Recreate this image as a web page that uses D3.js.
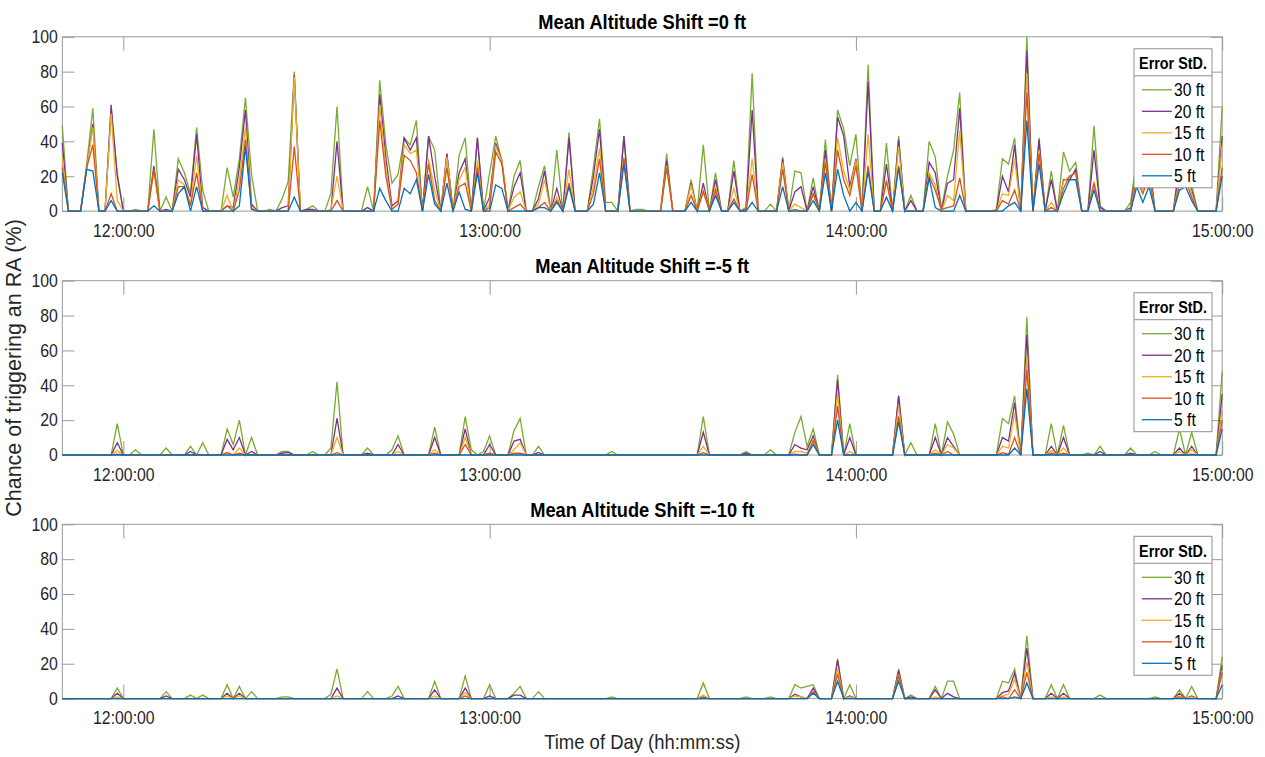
<!DOCTYPE html>
<html><head><meta charset="utf-8">
<script src="https://cdn.jsdelivr.net/npm/d3@7"></script>
<style>body{margin:0;background:#fff;} svg{display:block;}</style>
</head><body>
<svg id="chart" width="1265" height="757"></svg>
<script>
// ---------------- data ----------------
const startTime = "11:50:00";
const endTime = "15:00:00";
const sampleCount = 191;            // one sample per minute, 11:50 .. 15:00
const xTickLabels = ["12:00:00", "13:00:00", "14:00:00", "15:00:00"];
const yTicks = [0, 20, 40, 60, 80, 100];
const seriesNames = ["30 ft", "20 ft", "15 ft", "10 ft", "5 ft"];
const seriesColors = ["#77AC30", "#7E2F8E", "#EDB120", "#D95319", "#0072BD"];
const panelTitles = ["Mean Altitude Shift =0 ft", "Mean Altitude Shift =-5 ft", "Mean Altitude Shift =-10 ft"];
const legendTitle = "Error StD.";
const yLabel = "Chance of triggering an RA (%)";
const xLabel = "Time of Day (hh:mm:ss)";

// rows: [minute after 11:50, 30 ft, 20 ft, 15 ft, 10 ft, 5 ft]; minutes not listed read as 0
const shift0 = [
  [0,49,39,31,25,22],[4,27,25,25,25,24],[5,59,50,48,38,23],[8,58,61,56,10,6],[9,22,20,6,0,0],
  [12,1,0,0,0,0],[15,47,26,23,24,3],[17,8,1,0,0,0],[19,30,24,18,14,10],[20,22,18,15,14,14],
  [21,10,8,4,3,0],[22,48,44,32,22,14],[23,12,2,0,0,0],[27,25,3,9,3,0],[28,8,2,0,0,0],
  [29,30,25,18,12,3],[30,65,58,48,41,37],[31,21,4,2,1,1],[34,1,0,0,0,0],[36,7,2,0,0,0],
  [37,17,3,0,0,0],[38,80,78,77,37,8],[40,1,1,0,0,0],[41,3,1,0,0,0],[44,10,0,1,0,0],
  [45,60,40,20,6,0],[50,14,2,0,0,0],[52,75,67,61,52,13],[53,38,31,24,20,6],[54,16,3,1,1,0],
  [55,21,6,4,4,0],[56,42,42,38,32,13],[57,38,35,33,29,10],[58,52,42,35,22,18],[60,43,43,30,27,21],
  [61,35,20,12,6,4],[63,33,33,31,25,16],[65,32,22,18,14,11],[66,42,30,25,16,1],[68,42,42,29,25,22],
  [70,22,8,4,2,0],[71,43,39,37,34,15],[72,29,29,29,27,13],[74,20,14,8,2,0],[75,29,22,11,4,0],
  [78,14,7,4,2,2],[79,26,23,18,5,2],[81,35,13,8,6,5],[83,45,42,24,16,14],[87,25,20,14,10,4],
  [88,53,47,36,30,22],[89,5,0,0,0,0],[90,5,0,0,0,0],[92,43,43,31,30,27],[94,1,0,0,0,0],
  [95,1,0,0,0,0],[99,33,29,26,25,0],[103,18,16,15,9,5],[105,38,16,12,11,0],[107,22,18,14,12,9],
  [110,29,23,13,7,5],[112,2,1,0,0,0],[113,79,58,30,21,5],[116,4,0,0,0,0],[118,31,30,28,24,14],
  [120,23,11,4,1,0],[121,22,14,2,0,0],[123,19,14,10,10,6],[125,41,35,30,28,22],[127,58,54,42,35,24],
  [128,47,43,23,18,9],[129,26,14,12,9,0],[130,44,30,29,26,5],[132,84,74,44,26,23],[135,39,27,18,17,8],
  [137,43,41,37,26,25],[139,9,6,0,0,0],[142,40,28,22,20,19],[143,31,22,15,12,2],[144,1,0,0,1,0],
  [145,20,16,9,2,0],[146,35,18,6,3,0],[147,68,59,46,19,9],[153,1,0,0,0,0],[154,30,20,10,6,0],
  [155,27,11,9,4,3],[156,42,38,30,12,5],[158,100,92,79,68,52],[160,42,41,35,33,27],[162,23,18,5,2,0],
  [164,34,18,17,13,10],[165,23,18,20,20,18],[166,28,24,22,22,18],[169,49,35,17,16,12],[170,3,2,0,0,0],
  [175,5,2,1,0,0],[176,30,25,20,18,14],[177,22,18,12,10,5],[178,32,28,22,20,14],[183,30,25,18,15,12],
  [184,38,32,24,18,14],[185,15,12,10,8,6],[190,60,43,38,25,20]
];
const shiftMinus5 = [
  [9,18,7,2.5,0.5,0],[12,3,0,0,0,0],[17,4,0,0,0,0],[21,5,2,0,0,0],[23,7,0,0,0,0],
  [27,15,9,1.5,1.3,0],[28,6,3,0,0,0],[29,20,10,4,1,0],[31,10,2,0,0,0],[36,2,1,0,0,0],
  [37,2,1.5,0,0,0],[41,2,0,0,0,0],[44,4,0,0,0,0],[45,42,21,10,1.3,0],[50,4,1,0,0,0],
  [54,3,0,0,0,0],[55,11,6,2,0,0],[61,16,10,3,1,0],[66,22,15,10,6,0],[67,3,0,0,0,0],
  [69,2,0,0,0,0],[70,11,6,0,1,0],[74,14,8,3,1,0],[75,21,9,7,1,0],[78,5,1.5,0,0,0],
  [90,2,0,0,0,0],[105,22,13,5,1.3,0],[112,2,1,0,0,0],[116,3,0,0,0,0],[120,13,6,2,0.5,0],
  [121,22,4,2,0,0],[122,5,3,1,0,0],[123,15,11,9,8,6],[127,46,43,35,28,20],[129,18,10,2,0,0],
  [137,34,34,28,22,19],[139,7,0,0,0,0],[143,18,10,3,1,0],[145,19,10,6,2,0],[146,12,5,4,0,0],
  [154,21,10,5,1.3,0],[155,18,8,4,0.5,0],[156,34,30,24,10,4],[158,79,69,56,49,38],[162,18,5,2.5,1,0],
  [164,17,10,4,1,0],[168,1,0,0,0,0],[170,5,2,0,0,0],[175,4,1,0,0,0],[179,2,0,0,0,0],
  [183,15,4,2,0,0],[185,13,5,3,0.5,0],[190,48,35,26,20,15]
];
const shiftMinus10 = [
  [9,6,3,1,0,0],[17,4,1.5,0,0,0],[21,2,0,0,0,0],[23,2,0,0,0,0],[27,8,3,1.5,0,0],
  [29,7,3,1.5,0,0],[31,4,0,0,0,0],[36,1,0,0,0,0],[37,1,0,0,0,0],[44,2.5,0,0,0,0],
  [45,17,6,1.5,0,0],[50,4,0,0,0,0],[54,1.5,0,0,0,0],[55,7,1.5,0,0,0],[61,10,5,1.5,0,0],
  [66,13,6,3.4,1.5,0],[70,8,1.5,0,0,0],[74,3,2,0,0,0],[75,7,2,0,0,0],[78,4,0,0,0,0],
  [90,1,0,0,0,0],[105,9,1,2,0,0],[112,1,0,0,0,0],[116,1,0,0,0,0],[120,8,2.5,1.5,0,0],
  [121,6,1,1,0,0],[122,7,0,0,0,0],[123,8,6,4,4,3],[127,23,22,17,14,10],[129,8,1.5,1,0,0],
  [137,17,16,14,13,10],[139,2,1,0,0,0],[143,7,5,1,0,0],[145,10,3,0,0,0],[146,10,1,0,0,0],
  [154,10,3.4,1.5,1,0],[155,9,4.4,2.5,0,0],[156,17,14.5,11,5,1],[158,36,29,21,15,9],[162,8,3,1,0,0],
  [164,8,3,1,0,0],[170,2,0,0,0,0],[179,1,0,0,0,0],[183,5,3,1.5,1,0],[185,7,1.5,1,0,0],
  [190,24,19,16,15,8]
];
const panelData = [shift0, shiftMinus5, shiftMinus10];

// ---------------- layout ----------------
const W = 1265, H = 757;
const plotLeft = 62.3, plotRight = 1222.2;
const panelTops = [36.8, 280.7, 524.3];
const panelH = 174.3;
const FONT = "'Liberation Sans', Arial, Helvetica, sans-serif";
const SQX = 0.88;           // horizontal squeeze of the reference text
const boxColor = "#9a9a9a";
const textColor = "#262626";

const parseT = d3.timeParse("%Y-%m-%d %H:%M:%S");
const t0 = parseT("2000-01-01 " + startTime);
const t1 = parseT("2000-01-01 " + endTime);
const tickDates = xTickLabels.map(s => parseT("2000-01-01 " + s));
const fmt = d3.timeFormat("%H:%M:%S");

const svg = d3.select("#chart");
svg.append("rect").attr("width", W).attr("height", H).attr("fill", "#fff");

const x = d3.scaleTime().domain([t0, t1]).range([plotLeft, plotRight]);

function addText(g, px, py, str, opts) {
  const o = Object.assign({size: 18, weight: "normal", anchor: "middle", sx: SQX, rotate: 0, fill: textColor}, opts || {});
  const t = g.append("text")
    .attr("transform", `translate(${px},${py})` + (o.rotate ? ` rotate(${o.rotate})` : "") + ` scale(${o.sx},1)`)
    .attr("font-family", FONT).attr("font-size", o.size).attr("font-weight", o.weight)
    .attr("text-anchor", o.anchor).attr("fill", o.fill).text(str);
  return t;
}

function buildSeries(rows) {
  return seriesNames.map((name, k) => {
    const vals = new Array(sampleCount).fill(0);
    rows.forEach(r => { vals[r[0]] = r[k + 1]; });
    return vals.map((v, i) => ({t: d3.timeMinute.offset(t0, i), v}));
  });
}

panelTops.forEach((top, p) => {
  const bottom = top + panelH;
  const y = d3.scaleLinear().domain([0, 100]).range([bottom, top]);
  const g = svg.append("g");

  // axes box
  g.append("rect").attr("x", plotLeft).attr("y", top)
    .attr("width", plotRight - plotLeft).attr("height", panelH)
    .attr("fill", "none").attr("stroke", boxColor).attr("stroke-width", 1);

  // bottom axis (labels)
  const gx = g.append("g").attr("transform", `translate(0,${bottom})`)
    .call(d3.axisBottom(x).tickValues(tickDates).tickFormat(fmt).tickSizeInner(-14).tickSizeOuter(0).tickPadding(13));
  gx.select(".domain").remove();
  gx.selectAll("line").attr("stroke", boxColor);
  gx.selectAll("text").attr("font-family", FONT).attr("font-size", 18).attr("fill", textColor)
    .attr("transform", `scale(${SQX},1)`);

  // top axis ticks
  const gxt = g.append("g").attr("transform", `translate(0,${top})`)
    .call(d3.axisTop(x).tickValues(tickDates).tickFormat("").tickSizeInner(-14).tickSizeOuter(0));
  gxt.select(".domain").remove();
  gxt.selectAll("line").attr("stroke", boxColor);

  // left axis
  const gy = g.append("g").attr("transform", `translate(${plotLeft},0)`)
    .call(d3.axisLeft(y).tickValues(yTicks).tickSizeInner(-12).tickSizeOuter(0).tickPadding(5));
  gy.select(".domain").remove();
  gy.selectAll("line").attr("stroke", boxColor);
  gy.selectAll("text").attr("font-family", FONT).attr("font-size", 18).attr("fill", textColor)
    .attr("transform", `scale(${SQX},1)`);

  // right axis ticks
  const gyr = g.append("g").attr("transform", `translate(${plotRight},0)`)
    .call(d3.axisRight(y).tickValues(yTicks).tickFormat("").tickSizeInner(-11).tickSizeOuter(0));
  gyr.select(".domain").remove();
  gyr.selectAll("line").attr("stroke", boxColor);

  // lines
  const series = buildSeries(panelData[p]);
  const line = d3.line().x(d => x(d.t)).y(d => y(d.v));
  series.forEach((s, k) => {
    g.append("path").datum(s).attr("d", line)
      .attr("fill", "none").attr("stroke", seriesColors[k]).attr("stroke-width", 1.3)
      .attr("stroke-linejoin", "miter");
  });

  // title
  addText(g, (plotLeft + plotRight) / 2, top - 7.8, panelTitles[p], {size: 21, weight: "bold", fill: "#000", sx: 0.87});

  // legend
  const lg = g.append("g").attr("transform", `translate(1134,${top + 12})`);
  lg.append("rect").attr("width", 78).attr("height", 139).attr("fill", "#fff")
    .attr("stroke", "#8f8f8f").attr("stroke-width", 1);
  lg.append("line").attr("x1", 0).attr("x2", 78).attr("y1", 27).attr("y2", 27)
    .attr("stroke", "#8f8f8f").attr("stroke-width", 1);
  addText(lg, 39, 20.3, legendTitle, {size: 16.5, weight: "bold", fill: "#000", sx: 0.87});
  seriesNames.forEach((name, k) => {
    const ly = 41 + k * 21.5;
    lg.append("line").attr("x1", 8).attr("x2", 38).attr("y1", ly).attr("y2", ly)
      .attr("stroke", seriesColors[k]).attr("stroke-width", 1.3);
    addText(lg, 40, ly + 6.6, name, {size: 18, anchor: "start", fill: "#000", sx: 0.87});
  });
});

// axis labels
addText(svg, (plotLeft + plotRight) / 2, 749, xLabel, {size: 20.5, sx: 0.9});
addText(svg, 21, 368, yLabel, {size: 21.5, rotate: -90, sx: 1});
</script>
</body></html>
